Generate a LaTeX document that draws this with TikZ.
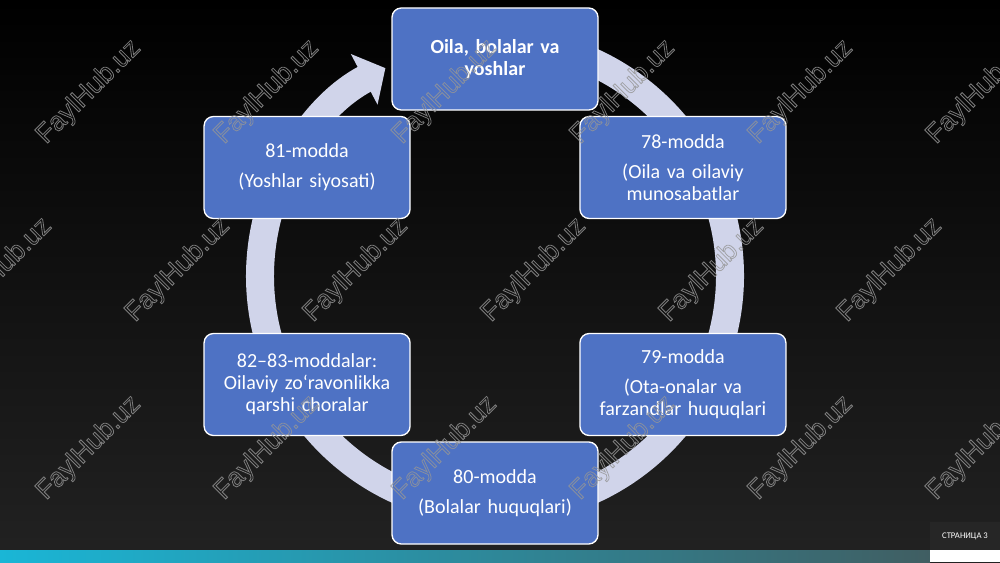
\documentclass[tikz,border=0pt]{standalone}
\usepackage{fontspec}
\setmainfont{Carlito}
\newfontfamily\wmfont{Liberation Sans}
\usetikzlibrary{arrows.meta,calc}

\definecolor{boxblue}{RGB}{78,114,196}
\definecolor{ringlav}{RGB}{208,212,234}
\definecolor{barcyan}{RGB}{26,182,214}
\definecolor{barteal}{RGB}{64,94,98}
\definecolor{pagegray}{RGB}{38,38,38}
\definecolor{bottomgray}{RGB}{34,34,34}
\definecolor{wmgray}{RGB}{150,150,150}

% hollow letters for the watermark
\newcommand{\outlined}[1]{\special{pdf:literal direct 1 Tr 0.6 w}#1\special{pdf:literal direct 0 Tr}}

\begin{document}
\begin{tikzpicture}[
    x=0.75pt, y=0.75pt,
    box/.style={draw=white, line width=1pt, fill=boxblue, rounded corners=7pt, text=white, align=center,
        minimum width=154.5pt, minimum height=76.5pt, text width=148pt, inner sep=2pt,
        font=\fontsize{15}{16.5}\selectfont},
    ring/.style={draw=ringlav, line width=21pt},
    watermark/.style={rotate=45, text=wmgray, opacity=0.8, font=\wmfont\fontsize{20}{20}\selectfont}
]
\useasboundingbox (0,0) rectangle (1000,562);
\shade[top color=black, bottom color=bottomgray] (0,0) rectangle (1000,562);

% footer
\shade[left color=barcyan, right color=barteal] (0,0) rectangle (930,12);
\fill[white] (930,0) rectangle (1000,12);
\fill[pagegray] (930,12) rectangle (1000,40);
\node[text=white, font=\fontsize{6.5}{8}\selectfont] (page) at (965,26) {СТРАНИЦА 3};

% cycle
\coordinate (C) at (495,286);
\draw[ring, -{Triangle[length=18pt, width=42pt]}] ($(C)+(85:235)$) arc[start angle=85, end angle=-242.2, radius=176.25pt];

\node[box, font=\fontsize{15}{16.5}\selectfont\bfseries] (family) at ($(C)+(90:217)$) {Oila, bolalar va\\yoshlar};
\node[box] (m78) at ($(C)+(30:217)$) {78-modda\\[6pt](Oila va oilaviy\\munosabatlar};
\node[box] (m79) at ($(C)+(-30:217)$) {79-modda\\[6pt](Ota-onalar va\\farzandlar huquqlari};
\node[box] (m80) at ($(C)+(-90:217)$) {80-modda\\[6pt](Bolalar huquqlari)};
\node[box] (m82) at ($(C)+(-150:217)$) {82–83-moddalar:\\Oilaviy zo‘ravonlikka\\qarshi choralar};
\node[box] (m81) at ($(C)+(150:217)$) {81-modda\\[6pt](Yoshlar siyosati)};

% watermark
\foreach \row/\yy/\xs in {1/470/89, 2/292/0, 3/114/89}
  \foreach \k in {0,...,5}
    \node[watermark] (wm-\row-\k) at (\xs+178*\k, \yy) {\outlined{FaylHub.uz}};
\end{tikzpicture}
\end{document}
